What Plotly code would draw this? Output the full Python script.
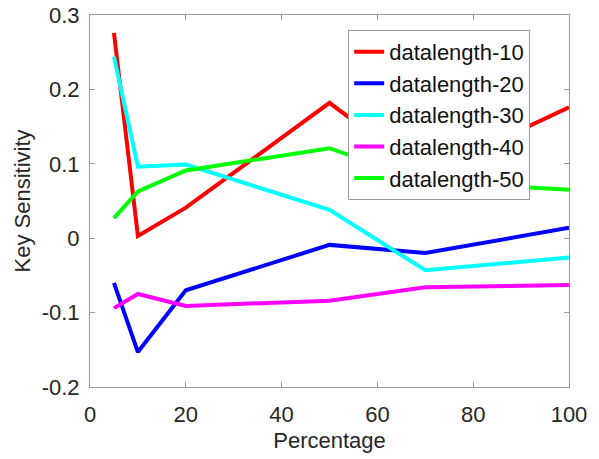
import plotly.graph_objects as go

percentage = [5, 10, 20, 50, 70, 100]
dl10 = [0.276, 0.003, 0.041, 0.182, 0.085, 0.176]
dl20 = [-0.060, -0.153, -0.070, -0.009, -0.020, 0.014]
dl30 = [0.244, 0.096, 0.099, 0.038, -0.043, -0.026]
dl40 = [-0.094, -0.075, -0.091, -0.084, -0.066, -0.063]
dl50 = [0.027, 0.063, 0.091, 0.121, 0.076, 0.065]

names = ["datalength-10", "datalength-20", "datalength-30", "datalength-40", "datalength-50"]
series = [dl10, dl20, dl30, dl40, dl50]
colors = ["#ff0000", "#0000ff", "#00ffff", "#ff00ff", "#00ff00"]

fig = go.Figure()
for n, s, c in zip(names, series, colors):
    fig.add_trace(go.Scatter(x=percentage, y=s, mode="lines", name=n,
                             line=dict(color=c, width=4)))

axis_common = dict(showgrid=False, zeroline=False, showline=True, linecolor="#999999",
                   linewidth=1, mirror="ticks", ticks="inside", ticklen=5,
                   tickcolor="#999999", tickfont=dict(size=22, color="#262626"),
                   title_font=dict(size=22, color="#262626"), automargin=False)

fig.update_layout(
    width=599, height=459,
    margin=dict(l=90, r=30, t=15, b=72),
    paper_bgcolor="white", plot_bgcolor="white",
    font=dict(family="Liberation Sans, Arial, sans-serif", color="#262626"),
    xaxis=dict(range=[0, 100], tickvals=[0, 20, 40, 60, 80, 100],
               ticklabelstandoff=8,
               title=dict(text="Percentage", standoff=6), **axis_common),
    yaxis=dict(range=[-0.2, 0.3], tickvals=[-0.2, -0.1, 0, 0.1, 0.2, 0.3],
               ticktext=["-0.2", "-0.1", "0", "0.1", "0.2", "0.3"],
               ticklabelstandoff=5,
               title=dict(text="Key Sensitivity", standoff=4), **axis_common),
    legend=dict(x=0.539, y=0.96, xanchor="left", yanchor="top", bgcolor="white",
                bordercolor="#999999", borderwidth=1, font=dict(size=22, color="#111"),
                tracegroupgap=0),
    showlegend=True,
)

fig.write_html("out.html", config={"displayModeBar": False},
               post_script="document.body.style.margin='0';document.body.style.overflow='hidden';")
